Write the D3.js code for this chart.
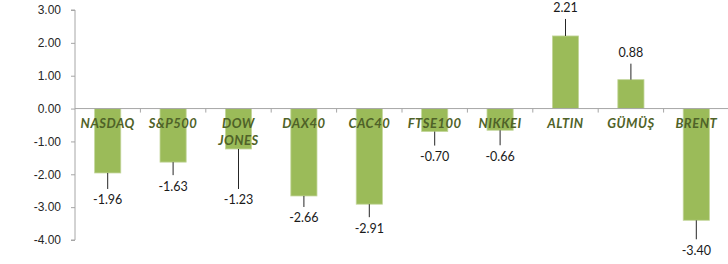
<!DOCTYPE html>
<html>
<head>
<meta charset="utf-8">
<script src="https://cdn.jsdelivr.net/npm/d3@7"></script>
<style>
  body { margin: 0; background: #fff; }
  svg { display: block; font-family: Lato, 'Open Sans', sans-serif; }
  .axis path, .axis line { stroke: #a6a6a6; }
  .axis text { fill: #262626; font-size: 12px; }
  .cat { fill: #4f6228; font-size: 13px; font-weight: bold; font-style: italic; letter-spacing: 0.5px; }
  .val { fill: #1a1a1a; font-size: 12.5px; }
</style>
</head>
<body>
<svg width="728" height="264"></svg>
<script>
var categories = ['NASDAQ', 'S&P500', 'DOW JONES', 'DAX40', 'CAC40', 'FTSE100', 'NIKKEI', 'ALTIN', 'GÜMÜŞ', 'BRENT']
var values = [-1.96, -1.63, -1.23, -2.66, -2.91, -0.70, -0.66, 2.21, 0.88, -3.40]
var yTicks = [3, 2, 1, 0, -1, -2, -3, -4]

// distance (px) from bar end to the value label, as placed in the original
var labelGap = [27, 24, 51, 22, 24, 25, 26, 28, 27, 30]

var svg = d3.select('svg')
var fmt = function (d) { return d3.format('.2f')(d).replace('\u2212', '-') }

var x = d3.scaleBand()
  .domain(categories)
  .range([75, 729])
  .paddingInner(0.6)
  .paddingOuter(0.3)

var y = d3.scaleLinear()
  .domain([-4, 3])
  .range([240, 10])

// bars
svg.append('g')
  .selectAll('rect')
  .data(values)
  .enter().append('rect')
  .attr('x', function (d, i) { return x(categories[i]) })
  .attr('y', function (d) { return y(Math.max(0, d)) })
  .attr('width', x.bandwidth())
  .attr('height', function (d) { return Math.abs(y(d) - y(0)) })
  .attr('fill', '#9bbb59')
  .attr('stroke', '#c3d69b')
  .attr('stroke-width', 0.8)

// y axis
var yAxis = svg.append('g')
  .attr('class', 'axis')
  .attr('transform', 'translate(75,0)')
  .call(d3.axisLeft(y).tickValues(yTicks).tickSize(4).tickPadding(10)
    .tickFormat(fmt))
yAxis.select('.domain').attr('d', 'M-4,' + y(3) + 'H0V' + y(-4) + 'H-4')

// x axis along zero, ticks at category boundaries
var xAxis = svg.append('g').attr('class', 'axis')
xAxis.append('line')
  .attr('x1', 75).attr('x2', 728)
  .attr('y1', y(0)).attr('y2', y(0))
var step = x.step()
xAxis.selectAll('.tk')
  .data(categories.slice(1))
  .enter().append('line')
  .attr('x1', function (d) { return x(d) - step * 0.3 })
  .attr('x2', function (d) { return x(d) - step * 0.3 })
  .attr('y1', y(0)).attr('y2', y(0) + 4)

// category labels
var cat = svg.append('g')
  .selectAll('text')
  .data(categories)
  .enter().append('text')
  .attr('class', 'cat')
  .attr('text-anchor', 'middle')
  .attr('x', function (d) { return x(d) + x.bandwidth() / 2 })
  .attr('y', y(0) + 19)
cat.each(function (d) {
  var words = d.split(' ')
  var t = d3.select(this)
  words.forEach(function (w, k) {
    t.append('tspan')
      .attr('x', x(d) + x.bandwidth() / 2)
      .attr('dy', k === 0 ? 0 : 17)
      .text(w)
  })
})

// value labels with leader lines
var lbl = svg.append('g')
  .selectAll('g')
  .data(values)
  .enter().append('g')

lbl.append('line')
  .attr('x1', function (d, i) { return x(categories[i]) + x.bandwidth() / 2 })
  .attr('x2', function (d, i) { return x(categories[i]) + x.bandwidth() / 2 })
  .attr('y1', function (d) { return y(d) })
  .attr('y2', function (d, i) {
    var s = d < 0 ? 1 : -1
    return y(d) + s * (labelGap[i] - 11)
  })
  .attr('stroke', '#262626')
  .attr('stroke-width', 1)

lbl.append('text')
  .attr('class', 'val')
  .attr('text-anchor', 'middle')
  .attr('dy', '0.35em')
  .attr('x', function (d, i) { return x(categories[i]) + x.bandwidth() / 2 })
  .attr('y', function (d, i) {
    var s = d < 0 ? 1 : -1
    return y(d) + s * labelGap[i]
  })
  .text(function (d) { return fmt(d) })
</script>
</body>
</html>
